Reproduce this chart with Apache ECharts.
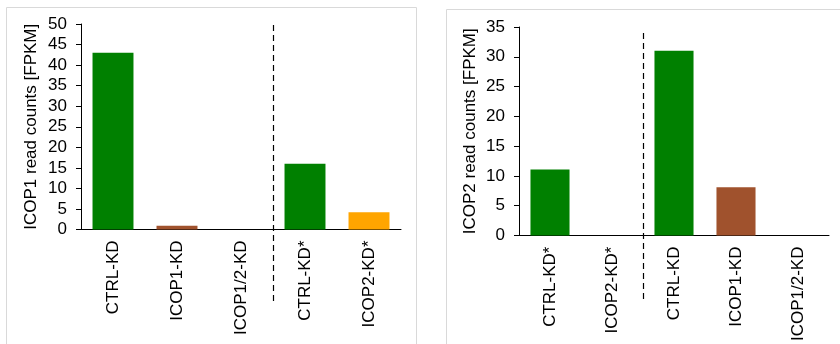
<!DOCTYPE html>
<html><head><meta charset="utf-8">
<script src="https://cdn.jsdelivr.net/npm/echarts@6/dist/echarts.min.js"></script>
<style>html,body{margin:0;padding:0;background:#fff}#c{width:840px;height:344px}</style>
</head><body><div id="c"></div>
<script>
// Left panel (ICOP1)
var cats1 = ['CTRL-KD', 'ICOP1-KD', 'ICOP1/2-KD', 'CTRL-KD*', 'ICOP2-KD*'];
var vals1 = [43, 0.9, 0, 16, 4.2];
var colors1 = ['#008000', '#A0522D', '#A0522D', '#008000', '#FFA500'];
var title1 = 'ICOP1 read counts [FPKM]';
// Right panel (ICOP2)
var cats2 = ['CTRL-KD*', 'ICOP2-KD*', 'CTRL-KD', 'ICOP1-KD', 'ICOP1/2-KD'];
var vals2 = [11.1, 0, 31, 8.1, 0];
var colors2 = ['#008000', '#FFA500', '#008000', '#A0522D', '#A0522D'];
var title2 = 'ICOP2 read counts [FPKM]';

var FONT = 'Liberation Sans, Arial, sans-serif';
var chart = echarts.init(document.getElementById('c'), null, {renderer: 'canvas'});

function xAx(idx, cats) {
  return {
    type: 'category', gridIndex: idx, data: cats,
    axisLine: {lineStyle: {color: '#000', width: 1}},
    axisTick: {show: false},
    axisLabel: {rotate: 90, color: '#000', fontSize: 17, fontFamily: FONT, margin: 11, interval: 0}
  };
}
function yAx(idx, max, name, gap) {
  return {
    type: 'value', gridIndex: idx, min: 0, max: max, interval: 5,
    name: name, nameLocation: 'middle', nameGap: gap, nameRotate: 90,
    nameTextStyle: {color: '#000', fontSize: 17, fontFamily: FONT},
    axisLine: {show: true, lineStyle: {color: '#000', width: 1}},
    axisTick: {show: true, length: 5, lineStyle: {color: '#000'}},
    axisLabel: {color: '#000', fontSize: 17, fontFamily: FONT, margin: 14},
    splitLine: {show: false}
  };
}

chart.setOption({
  animation: false,
  grid: [
    {left: 81, top: 24, width: 320, height: 205.5},
    {left: 519, top: 27, width: 310, height: 209}
  ],
  xAxis: [xAx(0, cats1), xAx(1, cats2)],
  yAxis: [yAx(0, 50, title1, 41), yAx(1, 35, title2, 40)],
  series: [
    {type: 'bar', xAxisIndex: 0, yAxisIndex: 0, barCategoryGap: '36%',
     data: vals1.map(function (v, i) { return {value: v, itemStyle: {color: colors1[i]}}; })},
    {type: 'bar', xAxisIndex: 1, yAxisIndex: 1, barCategoryGap: '37%',
     data: vals2.map(function (v, i) { return {value: v, itemStyle: {color: colors2[i]}}; })}
  ]
});

// separator positions: boundary between category groups, from the axes
function boundary(axisIdx, a, b) {
  var pa = chart.convertToPixel({xAxisIndex: axisIdx}, a);
  var pb = chart.convertToPixel({xAxisIndex: axisIdx}, b);
  return (pa + pb) / 2;
}
var sx1 = boundary(0, 2, 3);
var sx2 = boundary(1, 1, 2);
var dashStyle = {stroke: '#000', lineWidth: 1.2, lineDash: [6, 4]};
chart.setOption({
  graphic: [
    {type: 'rect', shape: {x: 6.5, y: 7.5, width: 410, height: 400}, style: {fill: 'none', stroke: '#d9d9d9', lineWidth: 1}, silent: true},
    {type: 'rect', shape: {x: 446.5, y: 9.5, width: 420, height: 400}, style: {fill: 'none', stroke: '#d9d9d9', lineWidth: 1}, silent: true},
    {type: 'line', shape: {x1: Math.round(sx1) + 0.5, y1: 25, x2: Math.round(sx1) + 0.5, y2: 302}, style: dashStyle, silent: true},
    {type: 'line', shape: {x1: Math.round(sx2) + 0.5, y1: 33, x2: Math.round(sx2) + 0.5, y2: 300}, style: dashStyle, silent: true}
  ]
});
</script></body></html>
